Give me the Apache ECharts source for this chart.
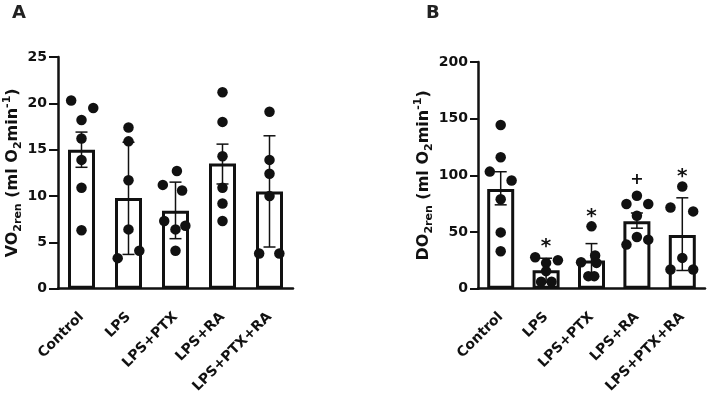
<!DOCTYPE html>
<html>
<head>
<meta charset="utf-8">
<script src="https://cdn.jsdelivr.net/npm/echarts@6/dist/echarts.min.js"></script>
<style>
  html, body { margin: 0; padding: 0; background: #fff; }
  #chart { width: 709px; height: 396px; }
</style>
</head>
<body>
<div id="chart"></div>
<script>
// groups on both panels
const groups = ['Control', 'LPS', 'LPS+PTX', 'LPS+RA', 'LPS+PTX+RA']

// panel A - VO2ren
const yTicksA = [0, 5, 10, 15, 20, 25]
const meanA = [15.0, 9.8, 8.4, 13.5, 10.5]
const errLowA = [13.1, 3.7, 5.4, 11.3, 4.5]
const errHighA = [16.9, 15.8, 11.5, 15.6, 16.5]
const ptsA = [
  [20.3, 19.5, 18.2, 16.2, 13.9, 10.9, 6.3],
  [17.4, 15.9, 11.7, 6.4, 3.3, 4.1],
  [12.7, 11.2, 10.6, 7.3, 6.8, 6.4, 4.1],
  [21.2, 18.0, 14.3, 10.9, 9.2, 7.3],
  [19.1, 13.9, 12.4, 10.0, 3.8, 3.8]
]
// horizontal scatter of the dots, in category widths
const jitA = [
  [-0.22, 0.25, 0, 0, 0, 0, 0],
  [0, 0, 0, 0, -0.23, 0.23],
  [0.03, -0.27, 0.14, -0.24, 0.21, 0, 0],
  [0, 0, 0, 0, 0, 0],
  [0, 0, 0, 0, -0.22, 0.21]
]

// panel B - DO2ren
const yTicksB = [0, 50, 100, 150, 200]
const meanB = [88.0, 16.3, 24.9, 59.6, 47.5]
const errLowB = [74.0, 5.7, 10.0, 53.4, 16.1]
const errHighB = [103.2, 26.9, 39.8, 66.8, 80.2]
const ptsB = [
  [144.4, 116.0, 103.3, 95.4, 79.0, 49.7, 33.0],
  [27.8, 25.1, 22.8, 15.5, 6.1, 6.1],
  [55.0, 29.3, 23.4, 22.8, 11.1, 11.1],
  [82.0, 74.7, 74.7, 64.4, 45.7, 43.3, 38.9],
  [90.2, 71.7, 68.2, 27.2, 17.0, 17.0]
]
const jitB = [
  [0, 0, -0.24, 0.24, 0, 0, 0],
  [-0.24, 0.26, 0, 0, -0.11, 0.12],
  [0, 0.08, -0.23, 0.11, -0.07, 0.06],
  [0, -0.23, 0.25, 0, 0, 0.25, -0.23],
  [0, -0.26, 0.24, 0, -0.26, 0.24]
]
const sigB = ['', '*', '*', '+', '*']

const FONT = 'DejaVu Sans'
const INK = '#111'

const dots = (pts, jit) => {
  const out = []
  pts.forEach((g, i) => g.forEach((v, k) => out.push([i + jit[i][k], v])))
  return out
}

// error bar: stem + two caps, drawn from the lo/hi arrays
const errRenderer = (lo, hi) => (params, api) => {
  const i = params.dataIndex
  const top = api.coord([i, hi[i]])
  const bot = api.coord([i, lo[i]])
  const w = 6
  const line = (x1, y1, x2, y2) => ({
    type: 'line', shape: { x1, y1, x2, y2 }, style: { stroke: INK, lineWidth: 1.5 }
  })
  return {
    type: 'group',
    children: [
      line(top[0], top[1], bot[0], bot[1]),
      line(top[0] - w, top[1], top[0] + w, top[1]),
      line(bot[0] - w, bot[1], bot[0] + w, bot[1])
    ]
  }
}

function renderSig(params, api) {
  const i = params.dataIndex
  const mark = sigB[i]
  if (!mark) return null
  const p = api.coord([i, Math.max(errHighB[i], ...ptsB[i])])
  const star = mark === '*'
  return {
    type: 'text',
    style: {
      text: mark,
      x: p[0],
      y: p[1] - (star ? 10 : 16),
      align: 'center',
      verticalAlign: 'middle',
      font: 'bold ' + (star ? 20 : 16) + 'px ' + FONT,
      fill: INK
    }
  }
}

const nameRich = {
  m: { fontSize: 16, fontWeight: 'bold', fontFamily: FONT, color: INK, lineHeight: 22 },
  s: { fontSize: 11, fontWeight: 'bold', fontFamily: FONT, color: INK, lineHeight: 12, verticalAlign: 'bottom' },
  p: { fontSize: 11, fontWeight: 'bold', fontFamily: FONT, color: INK, lineHeight: 12, verticalAlign: 'top' }
}

const catAxis = (grid) => ({
  type: 'category',
  gridIndex: grid,
  data: groups,
  axisLine: { onZero: false, lineStyle: { color: INK, width: 2.5 } },
  axisTick: { alignWithLabel: true, length: 8, lineStyle: { color: INK, width: 2 } },
  axisLabel: { interval: 0, rotate: 45, margin: 26, color: INK, fontFamily: FONT, fontWeight: 'bold', fontSize: 14 }
})
const dotAxis = (grid) => ({ type: 'value', gridIndex: grid, min: -0.5, max: 4.5, show: false })
const valAxis = (grid, ticks, name, gap, tickLen) => ({
  type: 'value',
  gridIndex: grid,
  min: ticks[0],
  max: ticks[ticks.length - 1],
  interval: ticks[1] - ticks[0],
  name: name,
  nameLocation: 'middle',
  nameRotate: 90,
  nameGap: gap,
  nameTextStyle: { rich: nameRich },
  axisLine: { show: true, onZero: false, lineStyle: { color: INK, width: 2.5 } },
  axisTick: { show: true, length: tickLen, lineStyle: { color: INK, width: 2 } },
  axisLabel: { margin: tickLen + 2, color: INK, fontFamily: FONT, fontWeight: 'bold', fontSize: 14 },
  splitLine: { show: false }
})

const panelSeries = (xCat, xDot, y, mean, lo, hi, pts, jit) => [
  {
    type: 'bar', xAxisIndex: xCat, yAxisIndex: y, data: mean, barWidth: 27,
    itemStyle: { color: '#fff', borderColor: INK, borderWidth: 3 }, z: 2
  },
  {
    type: 'custom', xAxisIndex: xCat, yAxisIndex: y, data: mean,
    renderItem: errRenderer(lo, hi), z: 3
  },
  {
    type: 'scatter', xAxisIndex: xDot, yAxisIndex: y, data: dots(pts, jit),
    symbolSize: 10.5, itemStyle: { color: INK, opacity: 1 }, z: 4
  }
]

const option = {
  animation: false,
  title: [
    { text: 'A', left: 12, top: 4, padding: 0, textStyle: { fontFamily: FONT, fontWeight: 'bold', fontSize: 18, color: '#222' } },
    { text: 'B', left: 426, top: 4, padding: 0, textStyle: { fontFamily: FONT, fontWeight: 'bold', fontSize: 18, color: '#222' } }
  ],
  grid: [
    { left: 58, top: 57, width: 235, height: 232 },
    { left: 478, top: 62, width: 227, height: 227 }
  ],
  xAxis: [catAxis(0), dotAxis(0), catAxis(1), dotAxis(1)],
  yAxis: [
    valAxis(0, yTicksA, '{m|VO}{s|2ren}{m| (ml O}{s|2}{m|min}{p|-1}{m|)}', 29, 9),
    valAxis(1, yTicksB, '{m|DO}{s|2ren}{m| (ml O}{s|2}{m|min}{p|-1}{m|)}', 39, 8)
  ],
  series: [
    ...panelSeries(0, 1, 0, meanA, errLowA, errHighA, ptsA, jitA),
    ...panelSeries(2, 3, 1, meanB, errLowB, errHighB, ptsB, jitB),
    {
      type: 'custom', xAxisIndex: 2, yAxisIndex: 1, data: meanB,
      renderItem: renderSig, z: 5
    }
  ]
}

const chart = echarts.init(document.getElementById('chart'))
chart.setOption(option)
</script>
</body>
</html>
